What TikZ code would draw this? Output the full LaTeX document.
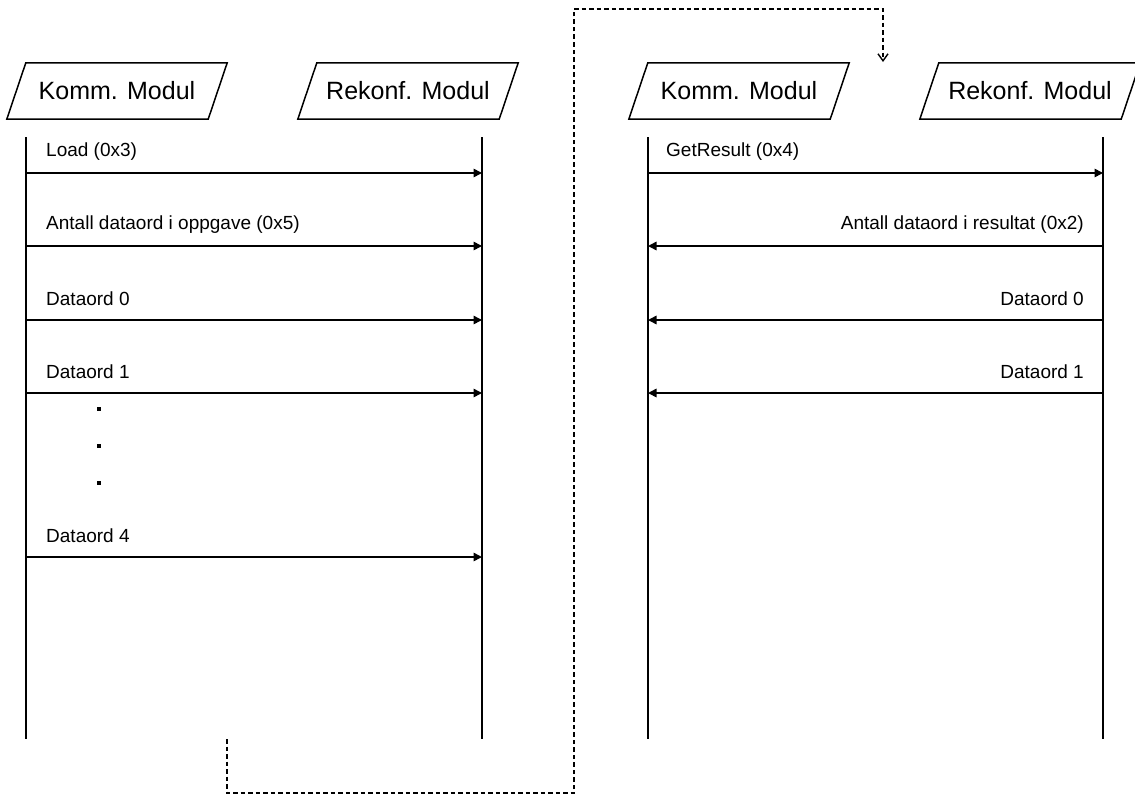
\documentclass[tikz,border=0pt]{standalone}
\usepackage{fontspec}
\setmainfont{Liberation Sans}
\usetikzlibrary{arrows.meta}

\tikzset{
  module/.style={minimum width=201pt, minimum height=56pt,
    inner sep=0pt, font=\fontsize{25}{30}\selectfont},
  modframe/.style={line width=1.5pt, line join=miter},
  lifeline/.style={line width=1.6pt},
  msg/.style={line width=1.6pt, -{Triangle[length=8.5pt,width=8.5pt]}},
  msglabel/.style={inner sep=0pt, font=\fontsize{19}{23}\selectfont},
  jump/.style={line width=1.6pt, dash pattern=on 4.5pt off 3pt,
    -{Straight Barb[length=7pt,width=10pt,line width=1.4pt]}},
}

\begin{document}
\begin{tikzpicture}[x=1pt,y=-1pt]
\useasboundingbox (0,0) rectangle (1135,795);

% module headers (slanted frames)
\node[module] (kA) at (117,91) {Komm. Modul};
\node[module] (rA) at (408,91) {Rekonf. Modul};
\node[module] (kB) at (739,91) {Komm. Modul};
\node[module] (rB) at (1030,91) {Rekonf. Modul};
\foreach \m in {kA,rA,kB,rB}
  \draw[modframe] ([xshift=9.5pt]\m.north west) -- ([xshift=9.5pt]\m.north east)
    -- ([xshift=-9.5pt]\m.south east) -- ([xshift=-9.5pt]\m.south west) -- cycle;

% lifelines
\coordinate (kAt) at (26,137);   \coordinate (kAb) at (26,739);
\coordinate (rAt) at (482,137);  \coordinate (rAb) at (482,739);
\coordinate (kBt) at (648,137);  \coordinate (kBb) at (648,739);
\coordinate (rBt) at (1103,137); \coordinate (rBb) at (1103,739);
\foreach \l in {kA,rA,kB,rB}
  \draw[lifeline] (\l t) -- (\l b);

% first exchange: Komm -> Rekonf
\foreach \y/\txt [count=\i] in {173/Load (0x3), 246/Antall dataord i oppgave (0x5),
    320/Dataord 0, 393/Dataord 1, 557/Dataord 4} {
  \draw[msg] (kAt |- 0,\y) -- (rAt |- 0,\y);
  \node[msglabel, anchor=west] (la\i) at (46,\y-21) {\txt};
}

% omitted words
\foreach \y [count=\i] in {409,446,483}
  \node[rectangle, fill, inner sep=0pt, minimum size=3.2pt] (dot\i) at (99,\y) {};

% second exchange
\draw[msg] (kBt |- 0,173) -- (rBt |- 0,173);
\node[msglabel, anchor=west] (lb1) at (666,152) {GetResult (0x4)};
\foreach \y/\txt [count=\i] in {246/Antall dataord i resultat (0x2), 320/Dataord 0, 393/Dataord 1} {
  \draw[msg] (rBt |- 0,\y) -- (kBt |- 0,\y);
  \node[msglabel, anchor=east] (lc\i) at (1084,\y-21) {\txt};
}

% continuation connector
\coordinate (jStart) at (227,739);
\coordinate (jC1) at (227,793);
\coordinate (jC2) at (574,793);
\coordinate (jC3) at (574,9);
\coordinate (jC4) at (883,9);
\coordinate (jEnd) at (883,62);
\draw[jump] (jStart) -- (jC1) -- (jC2) -- (jC3) -- (jC4) -- (jEnd);
\end{tikzpicture}
\end{document}
